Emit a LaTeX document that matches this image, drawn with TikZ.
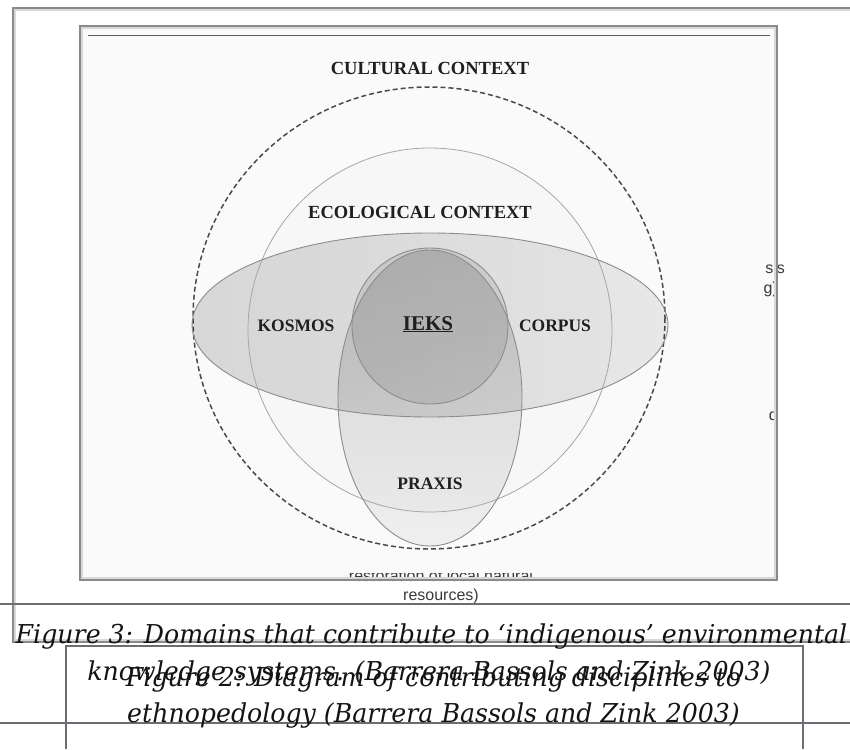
\documentclass[tikz,border=0pt]{standalone}
\usepackage{fontspec}
\setmainfont{Liberation Serif}
\newfontfamily\capfont{DejaVu Serif}[FakeStretch=0.97]
\newfontfamily\arialfont{Liberation Sans}
\definecolor{framegray}{HTML}{8A8A8A}
\definecolor{frameshadow}{HTML}{D8D8D8}
\definecolor{rulegray}{HTML}{6A6E72}
\definecolor{inkgray}{HTML}{3A3A3A}
\definecolor{hl}{HTML}{DCDCDC}
\definecolor{hr}{HTML}{EDEDED}
\definecolor{vt}{HTML}{DADADA}
\definecolor{vb}{HTML}{F4F4F4}
\definecolor{ci}{HTML}{EBEBEB}
\definecolor{eco}{HTML}{F7F7F7}
\definecolor{outl}{HTML}{8C8C8C}
\definecolor{dashc}{HTML}{4A4A4A}
\tikzset{
  frame/.style={draw=framegray, line width=2pt},
  frameshade/.style={draw=frameshadow, line width=1.5pt},
  rule/.style={draw=rulegray, line width=1.2pt},
  shapeline/.style={draw=outl, line width=0.9pt},
  dashcircle/.style={draw=dashc, line width=1.5pt, dash pattern=on 5pt off 3pt},
  headlabel/.style={font=\fontsize{18.5}{20}\selectfont\bfseries, text=black!88, inner sep=0pt, anchor=base},
  domlabel/.style={font=\fontsize{17.5}{19}\selectfont\bfseries, text=black!88, inner sep=0pt, anchor=base},
  bgtext/.style={font=\arialfont\fontsize{16}{18}\selectfont, text=inkgray, inner sep=0pt, anchor=base},
  captext/.style={font=\capfont\itshape\fontsize{26}{30}\selectfont, text=black!92, inner sep=0pt, anchor=base}
}
\begin{document}
\begin{tikzpicture}[x=1pt,y=-1pt]
\useasboundingbox (0,0) rectangle (850,749);
\fill[white] (0,0) rectangle (850,749);

% outer frame
\draw[frameshade] (850,10) -- (15,10) -- (15,640) -- (850,640);
\draw[frame] (850,8) -- (13,8) -- (13,642) -- (850,642);

% inner frame background
\fill[white!98!black] (81,27) rectangle (776,579);

% background texts partly hidden
\begin{scope}
\clip (761,250) rectangle (800,440);
\node[bgtext, anchor=base east] (sis) at (785,273) {sis};
\node[bgtext, anchor=base east] (gpar) at (778,293) {g)};
\node[bgtext, anchor=base east] (dd) at (778,420) {d};
\end{scope}
\begin{scope}
\clip (300,573) rectangle (600,590);
\node[bgtext] (restor) at (441,581) {restoration of local natural};
\end{scope}
\node[bgtext] (resour) at (441,600) {resources)};

% inner frame border
\draw[frameshade] (82,28) rectangle (775,578);
\draw[frame] (80,26) rectangle (777,580);
\draw[draw=black!65, line width=1pt] (88,36) -- (770,36);

% diagram
\draw[dashcircle] (429,318) ellipse [x radius=236, y radius=231];
\fill[eco] (430,330) circle [radius=182];
\begin{scope}[blend mode=multiply]
\shade[left color=hl, right color=hr] (430,325) ellipse [x radius=238, y radius=92];
\shade[top color=vt, bottom color=vb] (430,398) ellipse [x radius=92, y radius=148];
\fill[ci] (430,326) circle [radius=78];
\end{scope}
\draw[draw=black!35, line width=0.8pt] (430,330) circle [radius=182];
\draw[shapeline] (430,325) ellipse [x radius=238, y radius=92];
\draw[shapeline] (430,398) ellipse [x radius=92, y radius=148];
\draw[shapeline] (430,326) circle [radius=78];

\node[headlabel] (cult) at (430,75) {CULTURAL CONTEXT};
\node[headlabel] (ecol) at (420,218) {ECOLOGICAL CONTEXT};
\node[domlabel] (kosmos) at (296,331) {KOSMOS};
\node[headlabel, font=\fontsize{21}{23}\selectfont\bfseries] (ieks) at (428,330) {\underline{IEKS}};
\node[domlabel] (corpus) at (555,331) {CORPUS};
\node[domlabel] (praxis) at (430,489) {PRAXIS};

% lower rules and box
\draw[rule] (0,604) -- (850,604);
\draw[rule] (66,749) -- (66,646) -- (803,646) -- (803,749);
\draw[rule] (0,723) -- (850,723);

% captions
\node[captext] (cap3a) at (431.5,643) {Figure 3: Domains that contribute to ‘indigenous’ environmental};
\node[captext] (cap3b) at (429,680) {knowledge systems. (Barrera Bassols and Zink 2003)};
\node[captext] (cap2a) at (433.5,686) {Figure 2: Diagram of contributing disciplines to};
\node[captext] (cap2b) at (433.5,722) {ethnopedology (Barrera Bassols and Zink 2003)};
\end{tikzpicture}
\end{document}
